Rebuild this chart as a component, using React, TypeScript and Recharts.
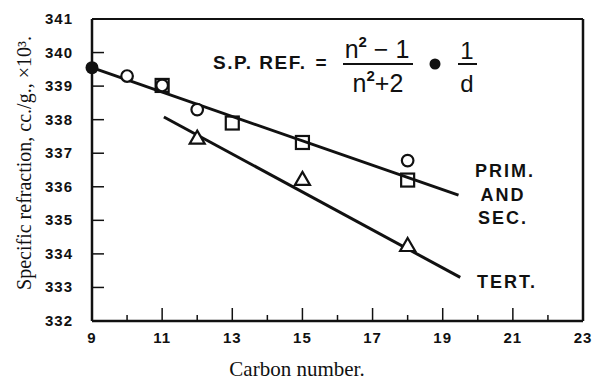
import { ComposedChart, Scatter, XAxis, YAxis } from "recharts";

// carbon number vs specific refraction (x10^3)
const openCircleX = [10, 11, 12, 18];
const openCircleY = [339.3, 339.02, 338.3, 336.78];
const filledCircleX = [9];
const filledCircleY = [339.55];
const squareX = [11, 13, 15, 18];
const squareY = [339.02, 337.9, 337.32, 336.2];
const triangleX = [12, 15, 18];
const triangleY = [337.45, 336.22, 334.25];
const primFitX = [9, 19.45];
const primFitY = [339.55, 335.75];
const tertFitX = [11.05, 19.5];
const tertFitY = [338.08, 333.3];

const xTicks = [9, 10, 11, 12, 13, 14, 15, 16, 17, 18, 19, 20, 21, 22, 23];
const yTicks = [332, 333, 334, 335, 336, 337, 338, 339, 340, 341];

const zip = (xs: number[], ys: number[]) => xs.map((x, i) => ({ x, y: ys[i] }));

const INK = "#111";
const tickFont = "'Liberation Sans', Arial, sans-serif";
const serif = "'Liberation Serif', 'Times New Roman', serif";

function BottomTick({ x, y, payload }: any) {
  const odd = payload.value % 2 === 1;
  return (
    <g>
      <line x1={x} x2={x} y1={y} y2={y - (odd ? 13 : 6)} stroke={INK} strokeWidth={1.5} />
      {odd && (
        <text x={x} y={y + 22} textAnchor="middle" fontFamily={tickFont} fontWeight={700} fontSize={15} fill={INK} letterSpacing={1}>
          {payload.value}
        </text>
      )}
    </g>
  );
}

function TopTick({ x, y, payload }: any) {
  const odd = payload.value % 2 === 1;
  return <line x1={x} x2={x} y1={y} y2={y + (odd ? 12 : 8)} stroke={INK} strokeWidth={1.5} />;
}

function LeftTick({ x, y, payload }: any) {
  return (
    <g>
      <line x1={x} x2={x + 12} y1={y} y2={y} stroke={INK} strokeWidth={1.5} />
      <text x={x - 19} y={y + 5} textAnchor="end" fontFamily={tickFont} fontWeight={700} fontSize={15} fill={INK} letterSpacing={1}>
        {payload.value}
      </text>
    </g>
  );
}

function RightTick({ x, y, payload }: any) {
  if (payload.value === 332 || payload.value === 341) return <g />;
  return <line x1={x} x2={x - 10} y1={y} y2={y} stroke={INK} strokeWidth={1.5} />;
}

const OpenCircle = ({ cx, cy }: any) => (
  <circle cx={cx} cy={cy} r={5.8} fill="#fff" stroke={INK} strokeWidth={2.2} />
);
const FilledCircle = ({ cx, cy }: any) => <circle cx={cx} cy={cy} r={6.5} fill={INK} />;
const Square = ({ cx, cy }: any) => (
  <rect x={cx - 6.5} y={cy - 6.5} width={13} height={13} fill="none" stroke={INK} strokeWidth={2.2} />
);
const Triangle = ({ cx, cy }: any) => (
  <path d={`M${cx},${cy - 7.5} L${cx + 7.5},${cy + 5.5} L${cx - 7.5},${cy + 5.5} Z`} fill="#fff" stroke={INK} strokeWidth={2.2} />
);
const NoMark = () => <g />;

export default function App() {
  const labelFont = { fontFamily: tickFont, fontWeight: 700, fill: INK } as const;
  return (
    <div style={{ position: "absolute", left: 0, top: 0, width: 593, height: 383, background: "#fff" }}>
      <ComposedChart width={593} height={383} margin={{ top: 0, right: 0, bottom: 0, left: 0 }}>
        <XAxis
          dataKey="x"
          type="number"
          domain={[9, 23]}
          ticks={xTicks}
          interval={0}
          height={62}
          tickSize={0}
          tickMargin={0}
          tick={<BottomTick />}
          axisLine={{ stroke: INK, strokeWidth: 2.5 }}
        />
        <XAxis
          xAxisId="top"
          orientation="top"
          type="number"
          domain={[9, 23]}
          ticks={xTicks}
          interval={0}
          height={19}
          tickSize={0}
          tickMargin={0}
          tick={<TopTick />}
          axisLine={{ stroke: INK, strokeWidth: 2 }}
        />
        <YAxis
          dataKey="y"
          type="number"
          domain={[332, 341]}
          ticks={yTicks}
          interval={0}
          width={92}
          tickSize={0}
          tickMargin={0}
          tick={<LeftTick />}
          axisLine={{ stroke: INK, strokeWidth: 2.5 }}
        />
        <YAxis
          yAxisId="right"
          orientation="right"
          type="number"
          domain={[332, 341]}
          ticks={yTicks}
          interval={0}
          width={10}
          tickSize={0}
          tickMargin={0}
          tick={<RightTick />}
          axisLine={{ stroke: INK, strokeWidth: 2.5 }}
        />
        <Scatter data={zip(primFitX, primFitY)} line={{ stroke: INK, strokeWidth: 3 }} shape={NoMark} isAnimationActive={false} />
        <Scatter data={zip(tertFitX, tertFitY)} line={{ stroke: INK, strokeWidth: 3 }} shape={NoMark} isAnimationActive={false} />
        <Scatter data={zip(squareX, squareY)} shape={Square} isAnimationActive={false} />
        <Scatter data={zip(triangleX, triangleY)} shape={Triangle} isAnimationActive={false} />
        <Scatter data={zip(openCircleX, openCircleY)} shape={OpenCircle} isAnimationActive={false} />
        <Scatter data={zip(filledCircleX, filledCircleY)} shape={FilledCircle} isAnimationActive={false} />
      </ComposedChart>
      <svg width={593} height={383} style={{ position: "absolute", left: 0, top: 0, pointerEvents: "none" }}>
        <text transform="translate(31,163) rotate(-90)" textAnchor="middle" fontFamily={serif} fontSize={20} fill={INK}>
          Specific refraction, cc./g., ×10³.
        </text>
        <text x={297} y={376} textAnchor="middle" fontFamily={serif} fontSize={21} fill={INK}>
          Carbon number.
        </text>
        <g {...labelFont}>
          <text x={213} y={69} fontSize={19} letterSpacing={1.5}>S.P. REF.</text>
          <text x={321} y={69} fontSize={19} textAnchor="middle">=</text>
          <text x={377} y={58} fontSize={25} fontWeight={400} textAnchor="middle">
            n<tspan fontSize={15} fontWeight={700} dy={-11}>2</tspan>
            <tspan dy={11}> − 1</tspan>
          </text>
          <line x1={343} x2={413} y1={64} y2={64} stroke={INK} strokeWidth={2} />
          <text x={378} y={92} fontSize={25} fontWeight={400} textAnchor="middle">
            n<tspan fontSize={15} fontWeight={700} dy={-11}>2</tspan>
            <tspan dy={11}>+2</tspan>
          </text>
          <circle cx={435} cy={64} r={5.5} fill={INK} />
          <text x={467} y={59} fontSize={24} fontWeight={400} textAnchor="middle">1</text>
          <line x1={458} x2={477} y1={64} y2={64} stroke={INK} strokeWidth={2} />
          <text x={467} y={92} fontSize={24} fontWeight={400} textAnchor="middle">d</text>
          <text x={505} y={177} fontSize={18} letterSpacing={2} textAnchor="middle">PRIM.</text>
          <text x={503} y={201} fontSize={18} letterSpacing={2} textAnchor="middle">AND</text>
          <text x={503} y={224} fontSize={18} letterSpacing={2} textAnchor="middle">SEC.</text>
          <text x={507} y={288} fontSize={18} letterSpacing={2} textAnchor="middle">TERT.</text>
        </g>
      </svg>
    </div>
  );
}
